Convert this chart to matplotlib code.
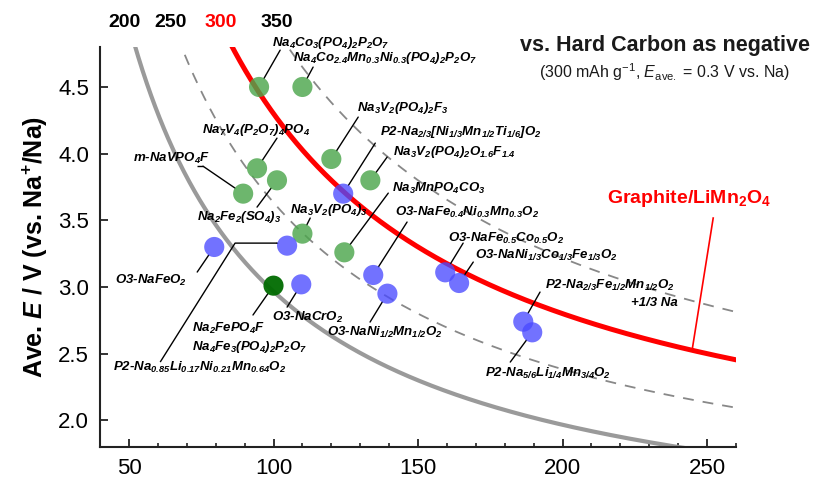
import re
import numpy as np
import matplotlib
matplotlib.use("Agg")
import matplotlib.pyplot as plt

plt.rcParams['font.family'] = 'Liberation Sans'
plt.rcParams['mathtext.fontset'] = 'custom'
plt.rcParams['mathtext.rm'] = 'Liberation Sans'
plt.rcParams['mathtext.it'] = 'Liberation Sans:italic:bold'
plt.rcParams['mathtext.bfit'] = 'Liberation Sans:italic:bold'
plt.rcParams['mathtext.bf'] = 'Liberation Sans:bold'
plt.rcParams['mathtext.sf'] = 'Liberation Sans:italic'

# hard carbon negative electrode
cap_neg = 300.0   # mAh/g
e_neg = 0.3       # V vs. Na

# iso energy-density lines (Wh/kg)
energies = [200, 250, 300, 350]

# positive electrode materials: capacity (mAh/g), average voltage (V)
green_names = ["Na_4Co_3(PO_4)_2P_2O_7", "Na_4Co_{2.4}Mn_{0.3}Ni_{0.3}(PO_4)_2P_2O_7",
               "Na_3V_2(PO_4)_2F_3", "Na_7V_4(P_2O_7)_4PO_4", "Na_2Fe_2(SO_4)_3",
               "m-NaVPO_4F", "Na_3V_2(PO_4)_3", "Na_3MnPO_4CO_3",
               "Na_3V_2(PO_4)_2O_{1.6}F_{1.4}"]
green_cap = [95, 110, 120, 94.3, 101.2, 89.5, 110, 124.5, 133.5]
green_v = [4.50, 4.50, 3.96, 3.89, 3.80, 3.70, 3.40, 3.26, 3.80]

dgreen_names = ["Na_2FePO_4F", "Na_4Fe_3(PO_4)_2P_2O_7"]
dgreen_cap = [100, 100]
dgreen_v = [3.01, 3.01]

blue_names = ["O3-NaFeO_2", "P2-Na_{0.85}Li_{0.17}Ni_{0.21}Mn_{0.64}O_2", "O3-NaCrO_2",
              "P2-Na_{2/3}[Ni_{1/3}Mn_{1/2}Ti_{1/6}]O_2", "O3-NaFe_{0.4}Ni_{0.3}Mn_{0.3}O_2",
              "O3-NaNi_{1/2}Mn_{1/2}O_2", "O3-NaFe_{0.5}Co_{0.5}O_2",
              "O3-NaNi_{1/3}Co_{1/3}Fe_{1/3}O_2", "P2-Na_{2/3}Fe_{1/2}Mn_{1/2}O_2",
              "P2-Na_{5/6}Li_{1/4}Mn_{3/4}O_2"]
blue_cap = [79.5, 104.7, 109.6, 124.1, 134.5, 139.4, 159.4, 164.2, 186.4, 189.5]
blue_v = [3.30, 3.31, 3.02, 3.70, 3.09, 2.95, 3.11, 3.03, 2.74, 2.66]

# label placement: text anchor (left, centre) and where the leader line starts
label_layout = {
    "Na_4Co_3(PO_4)_2P_2O_7": ((99.5, 4.83), [(102.3, 4.776)]),
    "Na_4Co_{2.4}Mn_{0.3}Ni_{0.3}(PO_4)_2P_2O_7": ((106.8, 4.716), [(113.7, 4.649)]),
    "Na_3V_2(PO_4)_2F_3": ((128.9, 4.341), [(129.3, 4.274)]),
    "P2-Na_{2/3}[Ni_{1/3}Mn_{1/2}Ti_{1/6}]O_2": ((136.9, 4.161), [(135.2, 4.079)]),
    "Na_3V_2(PO_4)_2O_{1.6}F_{1.4}": ((141.4, 4.011), [(139.3, 3.974)]),
    "Na_7V_4(P_2O_7)_4PO_4": ((75.3, 4.176), [(101.2, 4.116)]),
    "m-NaVPO_4F": ((51.4, 3.966), [(73.6, 3.906), (75.6, 3.906)]),
    "Na_2Fe_2(SO_4)_3": ((73.6, 3.524), [(94.3, 3.599)]),
    "Na_3V_2(PO_4)_3": ((105.7, 3.577), [(112.7, 3.517)]),
    "Na_3MnPO_4CO_3": ((141.0, 3.741), [(139.7, 3.704)]),
    "O3-NaFe_{0.4}Ni_{0.3}Mn_{0.3}O_2": ((142.1, 3.562), [(146.2, 3.487)]),
    "O3-NaFe_{0.5}Co_{0.5}O_2": ((160.4, 3.367), [(165.6, 3.329)]),
    "O3-NaNi_{1/3}Co_{1/3}Fe_{1/3}O_2": ((169.8, 3.239), [(169.1, 3.187)]),
    "P2-Na_{2/3}Fe_{1/2}Mn_{1/2}O_2": ((194.0, 3.014), [(192.2, 2.962)]),
    "P2-Na_{5/6}Li_{1/4}Mn_{3/4}O_2": ((173.2, 2.355), [(181.9, 2.437)]),
    "O3-NaNi_{1/2}Mn_{1/2}O_2": ((118.5, 2.662), [(133.4, 2.737)]),
    "O3-NaCrO_2": ((99.5, 2.775), [(104.7, 2.849)]),
    "Na_2FePO_4F": ((71.8, 2.692), [(92.9, 2.790)]),
    "Na_4Fe_3(PO_4)_2P_2O_7": ((71.8, 2.550), []),
    "P2-Na_{0.85}Li_{0.17}Ni_{0.21}Mn_{0.64}O_2": ((44.5, 2.400),
                                                  [(60.8, 2.437), (86.7, 3.329), (101.2, 3.329)]),
    "O3-NaFeO_2": ((45.2, 3.052), [(73.6, 3.112)]),
}


def chem(s):
    # turn _x / _{...} into mathtext subscripts, rest stays plain bold italic text
    return re.sub(r'_\{([^}]*)\}|_(\w)',
                  lambda m: r'$_{\mathbfit{%s}}$' % (m.group(1) or m.group(2)), s)


def cell_voltage(q, energy):
    return e_neg + energy * (q + cap_neg) / (q * cap_neg)


fig = plt.figure(figsize=(8.27, 4.84), dpi=100)
ax = fig.add_axes([0.121, 0.0764, 0.769, 0.8266])

q = np.linspace(40, 260, 600)
styles = {200: dict(color='#9a9a9a', lw=3.0, ls='-'),
          250: dict(color='#888888', lw=1.3, ls=(0, (6, 5))),
          300: dict(color='#ff0000', lw=3.6, ls='-'),
          350: dict(color='#888888', lw=1.3, ls=(0, (6, 5)))}
for en in energies:
    ax.plot(q, cell_voltage(q, en), zorder=2, **styles[en])
    # capacity where the line leaves the top of the plot
    q_top = en * cap_neg / ((4.8 - e_neg) * cap_neg - en)
    ax.annotate(str(en), xy=(q_top, 1.0), xycoords=('data', 'figure fraction'),
                xytext=(-8, -16), textcoords='offset points', ha='center', va='center',
                fontsize=14, fontweight='bold',
                color='#ff0000' if en == 300 else 'black', annotation_clip=False)

mkw = dict(s=210, edgecolors='none', zorder=4)
ax.scatter(green_cap, green_v, color='#4da64d', alpha=0.82, **mkw)
ax.scatter(dgreen_cap[:1], dgreen_v[:1], color='#006b00', alpha=0.95, **mkw)
ax.scatter(blue_cap, blue_v, color='#4a4aff', alpha=0.78, **mkw)

points = {}
for names, caps, vs in [(green_names, green_cap, green_v),
                        (dgreen_names, dgreen_cap, dgreen_v),
                        (blue_names, blue_cap, blue_v)]:
    for n, c, v in zip(names, caps, vs):
        points[n] = (c, v)

for name, (tpos, leader) in label_layout.items():
    ax.text(tpos[0], tpos[1], chem(name), ha='left', va='center', fontsize=9.5,
            fontweight='bold', fontstyle='italic', zorder=5, clip_on=False)
    if leader:
        if len(leader) > 1:
            xs, ys = zip(*leader)
            ax.plot(xs, ys, color='black', lw=1.0, zorder=3, solid_capstyle='butt')
        ax.annotate('', xy=points[name], xytext=leader[-1],
                    arrowprops=dict(arrowstyle='-', color='black', lw=1.0,
                                    shrinkA=0, shrinkB=7), zorder=3)

ax.text(240.0, 2.879, '+1/3 Na', ha='right', va='center', fontsize=9.5,
        fontweight='bold', fontstyle='italic', zorder=5)

# Graphite/LiMn2O4 pointer on the 300 Wh/kg line
q_g = 244.8
ax.plot([252.1, q_g], [3.517, cell_voltage(q_g, 300)], color='#ff0000', lw=1.2, zorder=3)
ax.text(215.4, 3.667, r'Graphite/LiMn$_{\mathbf{2}}$O$_{\mathbf{4}}$', color='#ff0000',
        fontsize=14, fontweight='bold', ha='left', va='center')

fig.text(0.804, 0.907, 'vs. Hard Carbon as negative', ha='center', va='center',
         fontsize=15.5, fontweight='bold', color='#1a1a1a')
fig.text(0.804, 0.851, r'(300 mAh g$^{\mathrm{-1}}$, $\mathsf{E}_{\mathrm{ave.}}$ = 0.3 V vs. Na)',
         ha='center', va='center', fontsize=11.5, color='#1a1a1a')

ax.set_xlim(40, 260)
ax.set_ylim(1.8, 4.8)
ax.set_xticks([50, 100, 150, 200, 250])
ax.set_xticks(np.arange(40, 261, 10), minor=True)
ax.set_yticks([2.0, 2.5, 3.0, 3.5, 4.0, 4.5])
ax.set_yticklabels(['2.0', '2.5', '3.0', '3.5', '4.0', '4.5'])
ax.spines['top'].set_visible(False)
ax.spines['right'].set_visible(False)
for s in ['left', 'bottom']:
    ax.spines[s].set_linewidth(1.5)
    ax.spines[s].set_color('#222222')
ax.tick_params(which='major', direction='in', length=6, width=1.3, labelsize=16,
               color='#222222', pad=8)
ax.tick_params(which='minor', direction='in', length=3, width=1.2, color='#222222')
ax.set_ylabel(r'Ave. $\mathit{E}$ / V (vs. Na$^{\mathbf{+}}$/Na)', fontsize=18,
              fontweight='bold', labelpad=6)

fig.savefig('out.png', dpi=100)
